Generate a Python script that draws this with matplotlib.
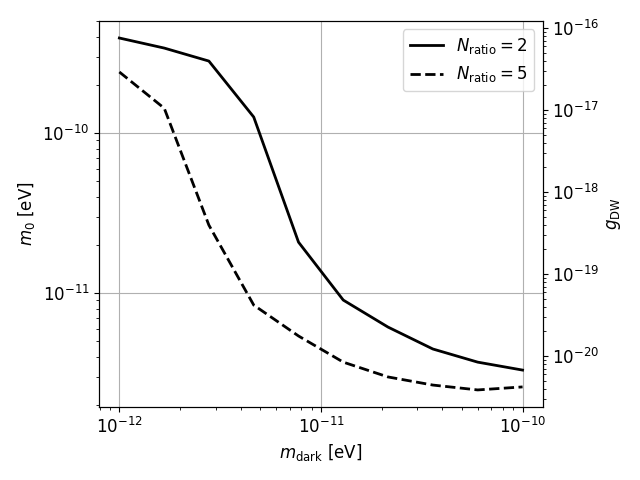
import matplotlib
matplotlib.use("Agg")
import matplotlib.pyplot as plt
import numpy as np

m_dark = [1.0e-12, 1.67e-12, 2.78e-12, 4.64e-12, 7.74e-12,
          1.29e-11, 2.15e-11, 3.59e-11, 5.99e-11, 1.0e-10]
m0_ratio2 = [3.93e-10, 3.40e-10, 2.82e-10, 1.26e-10, 2.08e-11,
             9.04e-12, 6.13e-12, 4.47e-12, 3.70e-12, 3.30e-12]
m0_ratio5 = [2.41e-10, 1.43e-10, 2.66e-11, 8.41e-12, 5.39e-12,
             3.70e-12, 2.99e-12, 2.66e-12, 2.48e-12, 2.59e-12]

fig, ax = plt.subplots(figsize=(6.4, 4.8), dpi=100)
fig.subplots_adjust(left=0.155, right=0.848, top=0.956, bottom=0.152)

ax.plot(m_dark, m0_ratio2, color='black', lw=2, ls='-', label=r'$N_{\rm ratio}=2$')
ax.plot(m_dark, m0_ratio5, color='black', lw=2, ls='--', label=r'$N_{\rm ratio}=5$')
ax.set_xscale('log')
ax.set_yscale('log')
ax.set_xlim(10**-12.1, 10**-9.9)
ax.set_ylim(10**-11.7125, 10**-9.3)
ax.grid(True, which='major', color='#b0b0b0', lw=0.8)
ax.set_xlabel(r'$m_{\rm dark}$ [eV]', fontsize=12)
ax.set_ylabel(r'$m_0$ [eV]', fontsize=12)
ax.tick_params(labelsize=12)
ax.legend(loc='upper right', fontsize=12)

ax2 = ax.twinx()
ax2.set_yscale('log')
ax2.set_ylim(10**-20.622, 10**-15.915)
ax2.set_ylabel(r'$g_{\rm DW}$', fontsize=12)
ax2.tick_params(labelsize=12)

fig.savefig('out.png', dpi=100)
